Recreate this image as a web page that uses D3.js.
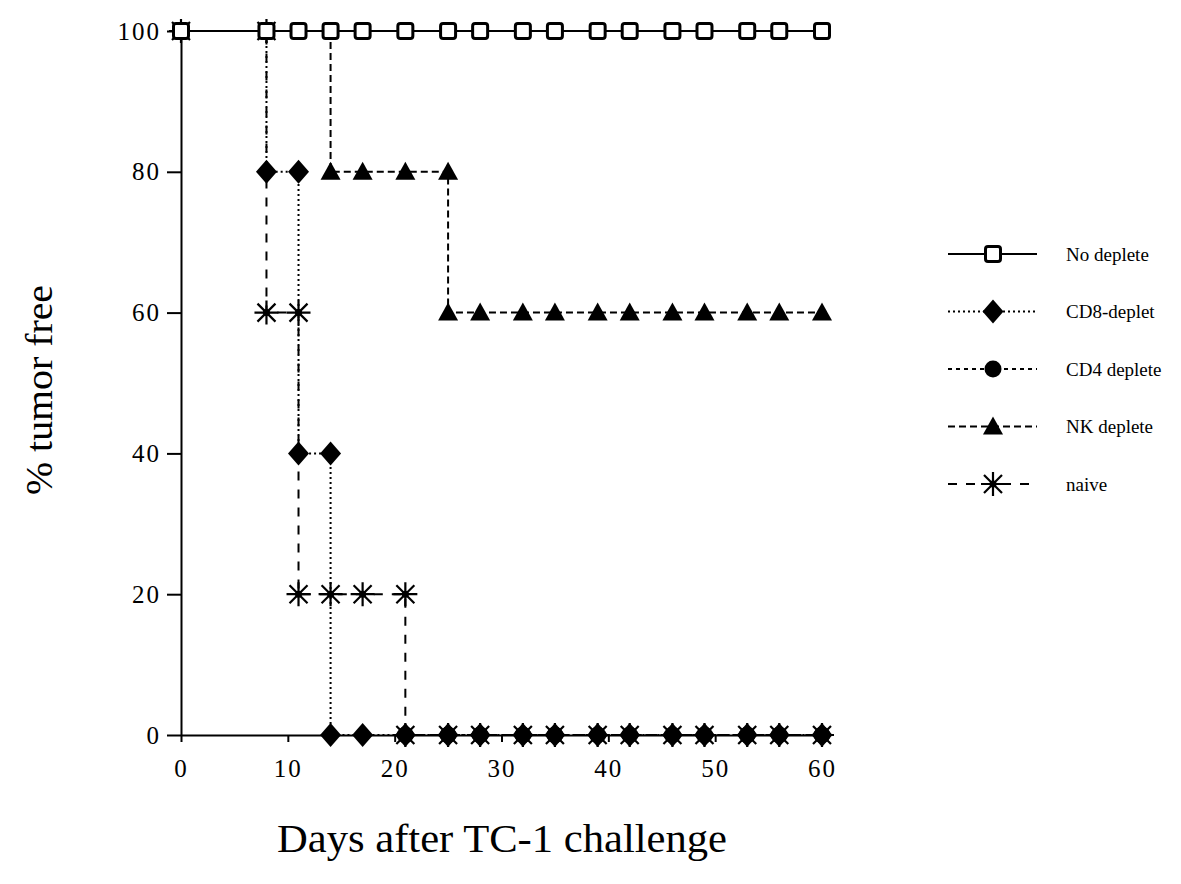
<!DOCTYPE html>
<html>
<head>
<meta charset="utf-8">
<script src="https://cdn.jsdelivr.net/npm/d3@7"></script>
<style>
  body { margin: 0; background: #fff; }
  svg { display: block; }
  .axis text { font-family: "Liberation Serif", "DejaVu Serif", serif; font-size: 25px; letter-spacing: 2px; fill: #000; }
  .axis path, .axis line { stroke: #000; stroke-width: 2px; }
</style>
</head>
<body>
<div id="chart"></div>
<script>
(function() {

  // days after challenge / % tumor free
  var noDepleteDays = [0, 8, 11, 14, 17, 21, 25, 28, 32, 35, 39, 42, 46, 49, 53, 56, 60];
  var noDepleteVals = [100, 100, 100, 100, 100, 100, 100, 100, 100, 100, 100, 100, 100, 100, 100, 100, 100];

  var cd8Days = [8, 8, 11, 11, 14, 14, 17, 21, 25, 28, 32, 35, 39, 42, 46, 49, 53, 56, 60];
  var cd8Vals = [100, 80, 80, 40, 40, 0, 0, 0, 0, 0, 0, 0, 0, 0, 0, 0, 0, 0, 0];

  var cd4Days = [21, 25, 28, 32, 35, 39, 42, 46, 49, 53, 56, 60];
  var cd4Vals = [0, 0, 0, 0, 0, 0, 0, 0, 0, 0, 0, 0];

  var nkDays = [14, 14, 17, 21, 25, 25, 28, 32, 35, 39, 42, 46, 49, 53, 56, 60];
  var nkVals = [100, 80, 80, 80, 80, 60, 60, 60, 60, 60, 60, 60, 60, 60, 60, 60];

  var naiveDays = [0, 8, 8, 11, 11, 14, 17, 21, 21, 25, 28, 32, 35, 39, 42, 46, 49, 53, 56, 60];
  var naiveVals = [100, 100, 60, 60, 20, 20, 20, 20, 0, 0, 0, 0, 0, 0, 0, 0, 0, 0, 0, 0];

  var xTicks = [0, 10, 20, 30, 40, 50, 60];
  var yTicks = [0, 20, 40, 60, 80, 100];

  var legendNames = ["No deplete", "CD8-deplet", "CD4 deplete", "NK deplete", "naive"];

  var width = 1181, height = 884;
  var serif = '"Liberation Serif", "DejaVu Serif", serif';

  var svg = d3.select("#chart")
        .append("svg")
        .attr("width", width)
        .attr("height", height);

  var x = d3.scaleLinear().domain([0, 60]).range([181, 822]);
  var y = d3.scaleLinear().domain([0, 100]).range([735, 31]);

  function zip(days, vals) {
    return days.map(function(d, i) { return { day: d, val: vals[i] }; });
  }

  // marker shapes
  function drawMarker(g, type) {
    if (type === "square") {
      g.append("rect").attr("x", -7.5).attr("y", -7.5).attr("width", 15).attr("height", 15)
        .attr("rx", 2.5).attr("fill", "#fff").attr("stroke", "#000").attr("stroke-width", 3);
    } else if (type === "diamond") {
      g.append("path").attr("d", "M0,-12L10.5,0L0,12L-10.5,0Z").attr("fill", "#000");
    } else if (type === "circle") {
      g.append("circle").attr("r", 8.5).attr("fill", "#000");
    } else if (type === "triangle") {
      g.append("path").attr("d", "M0,-10L10,8L-10,8Z").attr("fill", "#000");
    } else if (type === "star") {
      g.append("path").attr("d", "M-12,0L12,0M0,-12L0,12M-9,-9L9,9M-9,9L9,-9")
        .attr("stroke", "#000").attr("stroke-width", 2.2);
      g.append("circle").attr("r", 3.5).attr("fill", "#000");
    }
  }

  var series = [
    { name: legendNames[1], pts: zip(cd8Days, cd8Vals), dash: "2,3", marker: "diamond", skip: 1 },
    { name: legendNames[2], pts: zip(cd4Days, cd4Vals), dash: "4,4", marker: "circle", skip: 0 },
    { name: legendNames[3], pts: zip(nkDays, nkVals), dash: "7,4", marker: "triangle", skip: 1 },
    { name: legendNames[4], pts: zip(naiveDays, naiveVals), dash: "9,9", marker: "star", skip: 0 },
    { name: legendNames[0], pts: zip(noDepleteDays, noDepleteVals), dash: null, marker: "square", skip: 0 }
  ];

  // axes
  svg.append("g")
    .attr("class", "axis")
    .attr("transform", "translate(0," + y(0) + ")")
    .call(d3.axisBottom(x).tickValues(xTicks).tickSize(7).tickPadding(17).tickSizeOuter(0));

  svg.append("g")
    .attr("class", "axis")
    .attr("transform", "translate(" + x(0) + ",0)")
    .call(d3.axisLeft(y).tickValues(yTicks).tickSize(14).tickPadding(6).tickSizeOuter(0));

  var line = d3.line()
    .x(function(d) { return x(d.day); })
    .y(function(d) { return y(d.val); });

  svg.selectAll(".series")
    .data(series)
    .enter().append("path")
    .attr("class", "series")
    .attr("d", function(d) { return line(d.pts); })
    .attr("fill", "none")
    .attr("stroke", "#000")
    .attr("stroke-width", 2)
    .attr("stroke-dasharray", function(d) { return d.dash; });

  series.forEach(function(s) {
    s.pts.slice(s.skip).forEach(function(p) {
      var g = svg.append("g").attr("transform", "translate(" + x(p.day) + "," + y(p.val) + ")");
      drawMarker(g, s.marker);
    });
  });

  // legend
  var legendRows = [
    { name: legendNames[0], dash: null, marker: "square" },
    { name: legendNames[1], dash: "2,3", marker: "diamond" },
    { name: legendNames[2], dash: "4,4", marker: "circle" },
    { name: legendNames[3], dash: "7,4", marker: "triangle" },
    { name: legendNames[4], dash: "9,9", marker: "star" }
  ];

  legendRows.forEach(function(r, i) {
    var ly = 254 + i * 57.5;
    svg.append("line")
      .attr("x1", 948).attr("x2", 1037).attr("y1", ly).attr("y2", ly)
      .attr("stroke", "#000").attr("stroke-width", 2)
      .attr("stroke-dasharray", r.dash);
    drawMarker(svg.append("g").attr("transform", "translate(993," + ly + ")"), r.marker);
    svg.append("text")
      .attr("x", 1066).attr("y", ly)
      .attr("dy", "0.35em")
      .style("font-family", serif)
      .style("font-size", "19px")
      .text(r.name);
  });

  // axis titles
  svg.append("text")
    .attr("x", 502).attr("y", 852)
    .attr("text-anchor", "middle")
    .attr("textLength", 450)
    .attr("lengthAdjust", "spacingAndGlyphs")
    .style("font-family", serif)
    .style("font-size", "40px")
    .text("Days after TC-1 challenge");

  svg.append("text")
    .attr("transform", "translate(52,390) rotate(-90)")
    .attr("text-anchor", "middle")
    .attr("textLength", 210)
    .attr("lengthAdjust", "spacingAndGlyphs")
    .style("font-family", serif)
    .style("font-size", "38px")
    .text("% tumor free");

})();
</script>
</body>
</html>
